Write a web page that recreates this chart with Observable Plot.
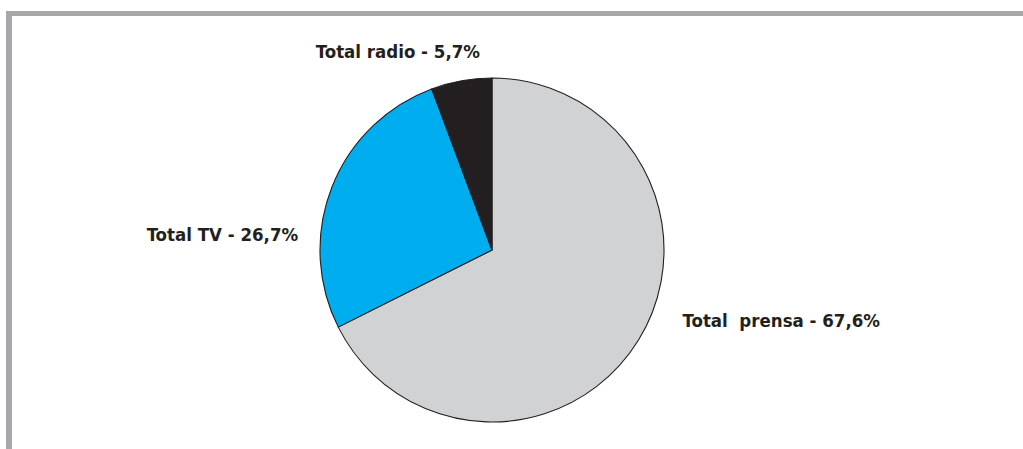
<!DOCTYPE html>
<html><head><meta charset="utf-8">
<script src="https://cdn.jsdelivr.net/npm/d3@7"></script>
<script src="https://cdn.jsdelivr.net/npm/@observablehq/plot@0.6"></script>
<style>
html,body{margin:0;padding:0;background:#fff;}
#chart{position:relative;width:1023px;height:449px;overflow:hidden;}
#frameTop{position:absolute;left:6px;top:11px;width:1017px;height:5px;background:#a7a8ab;}
#frameLeft{position:absolute;left:6px;top:11px;width:6px;height:438px;background:#a7a8ab;}
#chart svg{position:absolute;left:0;top:0;}
</style>
</head><body>
<div id="chart"><div id="frameTop"></div><div id="frameLeft"></div></div>
<script>
const categories = ["Total  prensa", "Total TV", "Total radio"];
const values = [67.6, 26.7, 5.7];
const labels = ["Total  prensa - 67,6%", "Total TV - 26,7%", "Total radio - 5,7%"];
const colors = ["#d1d2d4", "#00aeef", "#231f20"];

const data = categories.map((c, i) => ({category: c, value: values[i], label: labels[i]}));
const arcs = d3.pie().sort(null).value(d => d.value)(data);

// label layout (pie radius units), per slice
const labelLayout = [
  {x: 1.105, y: -0.41, anchor: "start"},
  {x: -1.13, y: 0.09, anchor: "end"},
  {x: -0.55, y: 1.155, anchor: "middle"}
];
const labelRows = arcs.map((a, i) => ({...labelLayout[i], text: a.data.label}));

const R = 172;
const pieMark = (index, scales, values_, dims) => {
  const cx = scales.x(0), cy = scales.y(0);
  const r = scales.x(1) - scales.x(0);
  const arcGen = d3.arc().innerRadius(0).outerRadius(r);
  const g = d3.create("svg:g").attr("transform", `translate(${cx},${cy})`);
  g.selectAll("path").data(arcs).join("path")
    .attr("d", arcGen)
    .attr("fill", (d, i) => colors[i])
    .attr("stroke", "#231f20")
    .attr("stroke-width", 1.1)
    .attr("stroke-linejoin", "round");
  return g.node();
};

const textOpts = anchor => ({
  filter: d => d.anchor === anchor,
  x: "x", y: "y", text: "text", textAnchor: anchor,
  fontFamily: "'Liberation Sans Narrow', 'DejaVu Sans Condensed', sans-serif",
  fontWeight: "bold", fontSize: 18.5, fill: "#231f20"
});

const plot = Plot.plot({
  width: 1023, height: 449,
  margin: 0,
  x: {domain: [-492 / R, 531 / R], range: [0, 1023], axis: null},
  y: {domain: [-199 / R, 250 / R], range: [449, 0], axis: null},
  style: {background: "transparent", overflow: "visible"},
  marks: [
    pieMark,
    Plot.text(labelRows, textOpts("start")),
    Plot.text(labelRows, textOpts("end")),
    Plot.text(labelRows, textOpts("middle"))
  ]
});
document.getElementById("chart").appendChild(plot);
</script>
</body></html>
